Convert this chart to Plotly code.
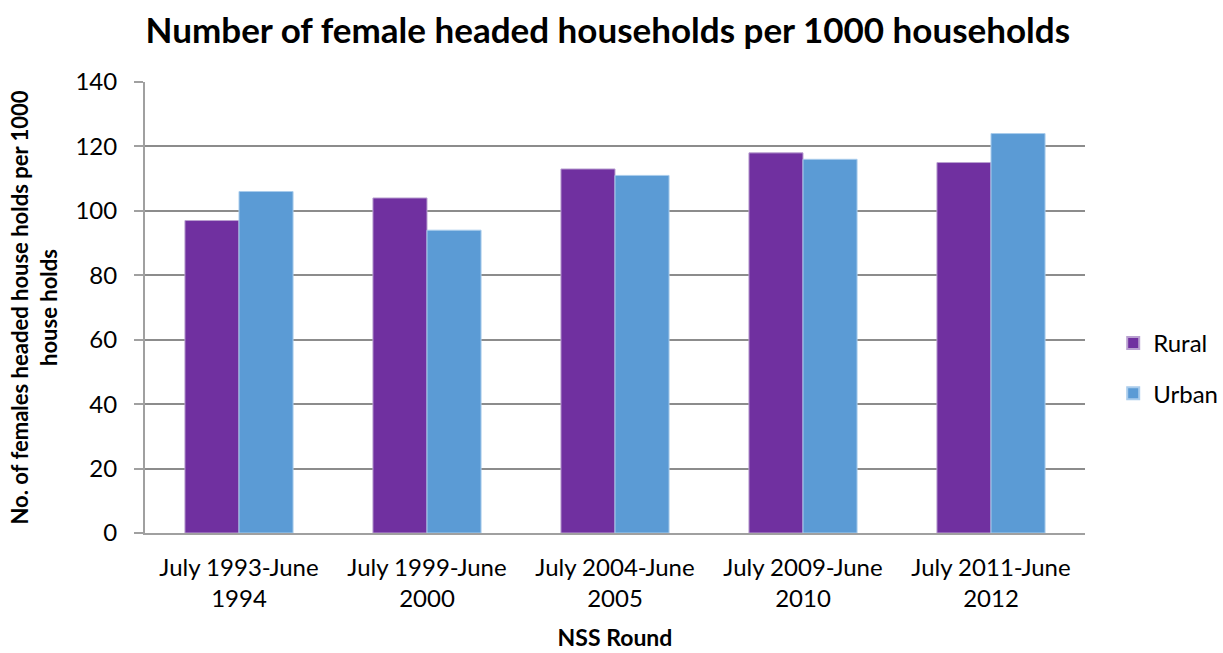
import plotly.graph_objects as go

rounds = ["July 1993-June<br>1994", "July 1999-June<br>2000", "July 2004-June<br>2005",
          "July 2009-June<br>2010", "July 2011-June<br>2012"]
rural = [97, 104, 113, 118, 115]
urban = [106, 94, 111, 116, 124]

FONT = "Lato, Carlito, 'Open Sans', sans-serif"

fig = go.Figure()
fig.add_trace(go.Bar(name="Rural", x=rounds, y=rural, legendgroup="r",
                     marker=dict(color="#7030A0", line=dict(color="#B9A0D0", width=1))))
fig.add_trace(go.Bar(name="Urban", x=rounds, y=urban, legendgroup="u",
                     marker=dict(color="#5B9BD5", line=dict(color="#A9CCEC", width=1))))

fig.update_layout(
    width=1223, height=653,
    margin=dict(l=145, r=138, t=82, b=120, autoexpand=False),
    paper_bgcolor="white", plot_bgcolor="white",
    font=dict(family=FONT, size=24, color="#000000"),
    title=dict(text="<b>Number of female headed households per 1000 households</b>",
               x=0.497, xanchor="center", y=0.953, yanchor="middle",
               font=dict(size=35, family=FONT)),
    barmode="group", bargap=0.425, bargroupgap=0,
    legend=dict(x=1.03, y=0.365, xanchor="left", yanchor="middle",
                font=dict(size=24), tracegroupgap=16, itemsizing="constant"),
    xaxis=dict(showline=True, linecolor="#A0A0A0", linewidth=2,
               ticks="outside", ticklen=12, tickcolor="rgba(0,0,0,0)",
               title=dict(text="<b>NSS Round</b>", font=dict(size=23), standoff=19),
               tickfont=dict(size=24)),
    yaxis=dict(range=[0, 140], dtick=20, showgrid=True, gridcolor="#8C8C8C", gridwidth=1.5,
               showline=True, linecolor="#A0A0A0", linewidth=2, ticks="outside", ticklen=9,
               tickcolor="#A0A0A0", tickwidth=2, zeroline=False, ticklabelstandoff=12,
               title=dict(text="<b>No. of females headed house holds per 1000<br>house holds</b>",
                          font=dict(size=22), standoff=12),
               tickfont=dict(size=24)),
)

fig.write_html("out.html")
